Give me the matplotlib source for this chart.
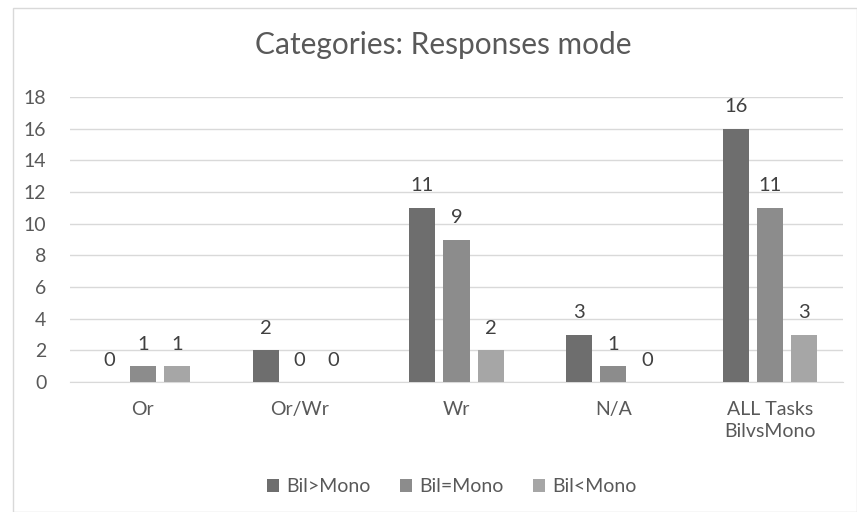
import matplotlib
matplotlib.use("Agg")
import matplotlib.pyplot as plt
from matplotlib.patches import Rectangle, Patch
import numpy as np

categories = ["Or", "Or/Wr", "Wr", "N/A", "ALL Tasks\nBilvsMono"]
series_names = ["Bil>Mono", "Bil=Mono", "Bil<Mono"]
bil_gt_mono = [0, 2, 11, 3, 16]
bil_eq_mono = [1, 0, 9, 1, 11]
bil_lt_mono = [1, 0, 2, 0, 3]
y_ticks = [0, 2, 4, 6, 8, 10, 12, 14, 16, 18]

colors = ["#6e6e6e", "#8c8c8c", "#a6a6a6"]
text_color = "#595959"
plt.rcParams["font.family"] = ["Lato", "DejaVu Sans"]

fig = plt.figure(figsize=(8.57, 5.12), dpi=100)
fig.patches.append(Rectangle((13 / 857, 0.0), 1 - 13 / 857, 1 - 8 / 512,
                             transform=fig.transFigure, fill=False,
                             edgecolor="#d9d9d9", linewidth=1.0))
ax = fig.add_axes([70 / 857, 1 - 382 / 512, (843 - 70) / 857, (382 - 97) / 512])

x = np.arange(len(categories))
width = 0.166
step = 0.217
series = [bil_gt_mono, bil_eq_mono, bil_lt_mono]
for i, (vals, name, c) in enumerate(zip(series, series_names, colors)):
    pos = x + (i - 1) * step
    ax.bar(pos, vals, width=width, color=c, label=name, zorder=3)
    for px, v in zip(pos, vals):
        ax.text(px, v + 1.38, str(v), ha="center", va="center",
                fontsize=14.5, color="#404040")

ax.set_xlim(-0.465, len(categories) - 1 + 0.465)
ax.set_ylim(0, 18)
ax.set_yticks(y_ticks)
ax.yaxis.grid(True, color="#d9d9d9", linewidth=1.0, zorder=0)
ax.set_axisbelow(True)
ax.set_xticks(x)
ax.set_xticklabels(categories, fontsize=14, color=text_color, linespacing=1.3)
ax.tick_params(axis="y", labelsize=14, labelcolor=text_color, length=0, pad=17)
ax.tick_params(axis="x", length=0, pad=14)
for side in ["left", "right", "top"]:
    ax.spines[side].set_visible(False)
ax.spines["bottom"].set_color("#d9d9d9")

fig.text(443 / 857, 1 - 45 / 512, "Categories: Responses mode", ha="center",
         va="center", fontsize=21.5, color=text_color)

handles = [Patch(facecolor=c, edgecolor="none") for c in colors]
fig.legend(handles, series_names, loc="center", bbox_to_anchor=(452 / 857, 1 - 487 / 512),
           ncol=3, frameon=False, fontsize=14, labelcolor=text_color,
           handlelength=0.6, handleheight=0.6, handletextpad=0.4, columnspacing=1.5)

fig.savefig("out.png", dpi=100)
